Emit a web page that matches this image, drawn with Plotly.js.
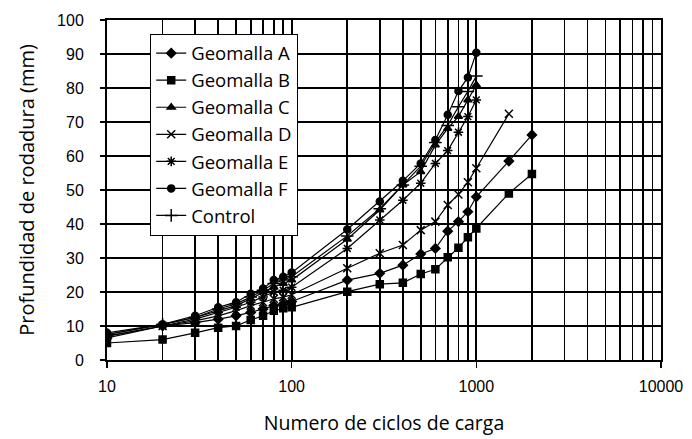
<!DOCTYPE html>
<html>
<head>
<meta charset="utf-8">
<script src="https://cdn.plot.ly/plotly-3.0.1.min.js"></script>
<style>html,body{margin:0;padding:0;background:#fff}#chart{width:692px;height:439px}</style>
</head>
<body>
<div id="chart"></div>
<script>
// cycles (x) for each series
const ciclosFull = [10,20,30,40,50,60,70,80,90,100,200,300,400,500,600,700,800,900,1000];
const ciclosD = [10,20,30,40,50,60,70,80,90,100,200,300,400,500,600,700,800,900,1000,1500];
const ciclosAB = [10,20,30,40,50,60,70,80,90,100,200,300,400,500,600,700,800,900,1000,1500,2000];

const geomallaA = [6.5,10,11,12,13,14,15,16,16.5,17.2,23.5,25.5,27.9,31.2,32.8,37.9,40.7,43.6,48,58.5,66.2];
const geomallaB = [5,6,8,9.5,10,11.8,13,14.5,15.2,15.5,20.1,22.3,22.7,25.3,26.7,30.2,33,36.1,38.7,49,54.7];
const geomallaC = [7.5,10.5,12.5,14.5,16,18,20,21.5,22.5,23.5,35.5,44.1,51.5,55.4,63.2,68.1,71.6,76.5,80.9];
const geomallaD = [7,10,11.5,13,14.5,16,17,18,18.5,19.2,27,31.4,33.8,38.2,40.7,45.6,48.7,52.3,56.4,72.4];
const geomallaE = [7,10,12,14,15.5,17,18.5,20,20.5,21.4,32.8,41.2,47,52,57.8,61.6,67,71.6,76.5];
const geomallaF = [8,10.5,13,15.5,17,19.5,21,23.5,24.5,25.7,38.4,46.6,52.7,57.8,64.7,72.1,79.1,83.1,90.4];
const control   = [7.5,10.5,12.5,15,16.5,18.5,20.5,22.5,23.5,24.5,36.5,44.5,51.5,57,64,69,74.5,79,83.5];

const xTickVals = [10,100,1000,10000];
const xTickText = ['10','100','1000','10000'];

const series = [
  {name:'Geomalla A', x:ciclosAB, y:geomallaA, symbol:'diamond', size:7},
  {name:'Geomalla B', x:ciclosAB, y:geomallaB, symbol:'square', size:7},
  {name:'Geomalla C', x:ciclosFull, y:geomallaC, symbol:'triangle-up', size:7},
  {name:'Geomalla D', x:ciclosD, y:geomallaD, symbol:'x-thin-open', size:8},
  {name:'Geomalla E', x:ciclosFull, y:geomallaE, symbol:'asterisk-open', size:8},
  {name:'Geomalla F', x:ciclosFull, y:geomallaF, symbol:'circle', size:7},
  {name:'Control', x:ciclosFull, y:control, symbol:'cross-thin-open', size:9}
];

const traces = series.map((s,i)=>({
  type:'scatter', mode:'lines+markers', name:s.name, x:s.x, y:s.y,
  line:{color:'black', width:1.2},
  marker:{symbol:s.symbol, size:s.size, color:'black', line:{color:'black', width:1.5}}
}));

const layout = {
  width:692, height:439,
  margin:{l:107, r:31, t:20, b:79},
  paper_bgcolor:'white', plot_bgcolor:'white',
  showlegend:true,
  legend:{x:0.078, y:0.96, xanchor:'left', yanchor:'top',
    bgcolor:'white', bordercolor:'black', borderwidth:1,
    font:{family:'Open Sans', size:18.5, color:'black'}},
  xaxis:{type:'log', range:[1,4], tickvals:xTickVals, ticktext:xTickText,
    showgrid:true, gridcolor:'black', gridwidth:2,
    minor:{dtick:'D1', showgrid:true, gridcolor:'black', gridwidth:1.7, ticks:''},
    ticks:'outside', ticklen:6, tickcolor:'black', tickwidth:1.5, ticklabelstandoff:5,
    showline:true, linecolor:'black', linewidth:2, mirror:true,
    tickfont:{family:'Liberation Sans, Arial', size:16, color:'black'},
    title:{text:'Numero de ciclos de carga', font:{family:'Open Sans', size:19.5, color:'black'}},
    automargin:false, zeroline:false},
  yaxis:{range:[0,100], dtick:10, showgrid:true, gridcolor:'black', gridwidth:2,
    ticks:'outside', ticklen:5, tickcolor:'black', tickwidth:1.5, ticklabelstandoff:13,
    showline:true, linecolor:'black', linewidth:2, mirror:true,
    tickfont:{family:'Liberation Sans, Arial', size:16, color:'black'},
    title:{text:'Profundidad de rodadura (mm)', font:{family:'Open Sans', size:20, color:'black'}, standoff:17},
    automargin:true, zeroline:false}
};

Plotly.newPlot('chart', traces, layout, {staticPlot:true, displayModeBar:false});
</script>
</body>
</html>
